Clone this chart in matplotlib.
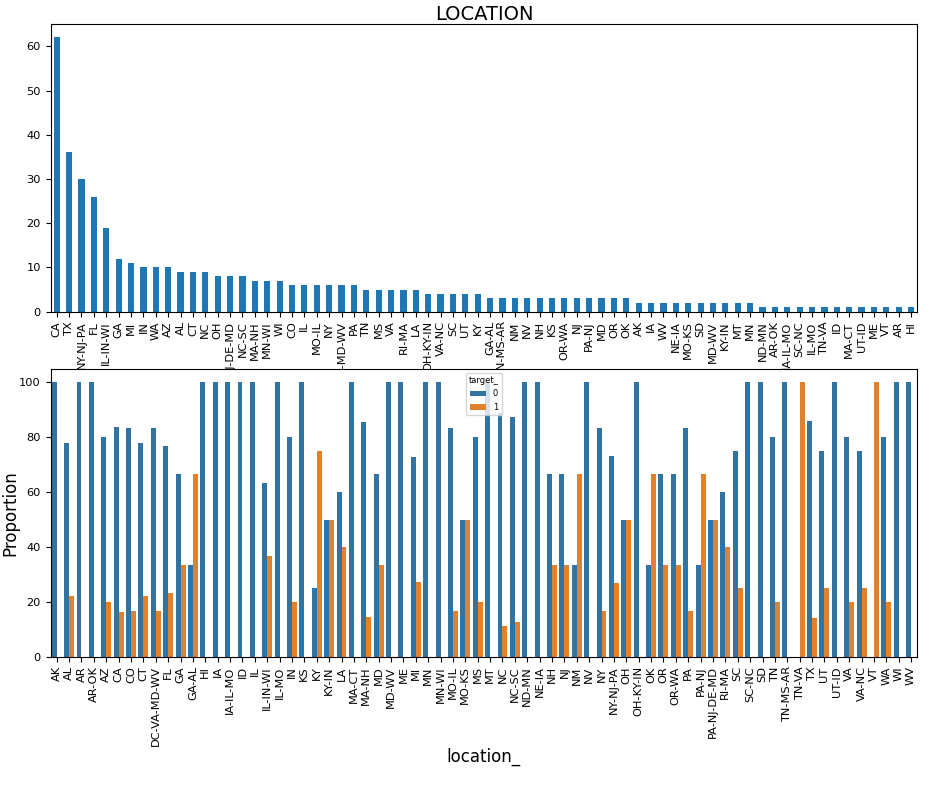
import matplotlib.pyplot as plt
import numpy as np

# value counts of location_ (sorted, as in the top panel)
count_locs = ['CA', 'TX', 'NY-NJ-PA', 'FL', 'IL-IN-WI', 'GA', 'MI', 'IN', 'WA', 'AZ',
              'AL', 'CT', 'NC', 'OH', 'PA-NJ-DE-MD', 'NC-SC', 'MA-NH', 'MN-WI', 'WI', 'CO',
              'IL', 'MO-IL', 'NY', 'DC-VA-MD-WV', 'PA', 'TN', 'MS', 'VA', 'RI-MA', 'LA',
              'OH-KY-IN', 'VA-NC', 'SC', 'UT', 'KY', 'GA-AL', 'TN-MS-AR', 'NM', 'NV', 'NH',
              'KS', 'OR-WA', 'NJ', 'PA-NJ', 'MD', 'OR', 'OK', 'AK', 'IA', 'WV',
              'NE-IA', 'MO-KS', 'SD', 'MD-WV', 'KY-IN', 'MT', 'MN', 'ND-MN', 'AR-OK', 'IA-IL-MO',
              'SC-NC', 'IL-MO', 'TN-VA', 'ID', 'MA-CT', 'UT-ID', 'ME', 'VT', 'AR', 'HI']
counts = [62, 36, 30, 26, 19, 12, 11, 10, 10, 10,
          9, 9, 9, 8, 8, 8, 7, 7, 7, 6,
          6, 6, 6, 6, 6, 5, 5, 5, 5, 5,
          4, 4, 4, 4, 4, 3, 3, 3, 3, 3,
          3, 3, 3, 3, 3, 3, 3, 2, 2, 2,
          2, 2, 2, 2, 2, 2, 2, 1, 1, 1,
          1, 1, 1, 1, 1, 1, 1, 1, 1, 1]

# proportion of target_ per location_ (alphabetical, bottom panel)
prop_locs = ['AK', 'AL', 'AR', 'AR-OK', 'AZ', 'CA', 'CO', 'CT', 'DC-VA-MD-WV', 'FL',
             'GA', 'GA-AL', 'HI', 'IA', 'IA-IL-MO', 'ID', 'IL', 'IL-IN-WI', 'IL-MO', 'IN',
             'KS', 'KY', 'KY-IN', 'LA', 'MA-CT', 'MA-NH', 'MD', 'MD-WV', 'ME', 'MI',
             'MN', 'MN-WI', 'MO-IL', 'MO-KS', 'MS', 'MT', 'NC', 'NC-SC', 'ND-MN', 'NE-IA',
             'NH', 'NJ', 'NM', 'NV', 'NY', 'NY-NJ-PA', 'OH', 'OH-KY-IN', 'OK', 'OR',
             'OR-WA', 'PA', 'PA-NJ', 'PA-NJ-DE-MD', 'RI-MA', 'SC', 'SC-NC', 'SD', 'TN', 'TN-MS-AR',
             'TN-VA', 'TX', 'UT', 'UT-ID', 'VA', 'VA-NC', 'VT', 'WA', 'WI', 'WV']
prop0 = [100, 77.8, 100, 100, 80, 83.9, 83.3, 77.8, 83.3, 76.9,
         66.7, 33.3, 100, 100, 100, 100, 100, 63.2, 100, 80,
         100, 25, 50, 60, 100, 85.7, 66.7, 100, 100, 72.7,
         100, 100, 83.3, 50, 80, 100, 88.9, 87.5, 100, 100,
         66.7, 66.7, 33.3, 100, 83.3, 73.3, 50, 100, 33.3, 66.7,
         66.7, 83.3, 33.3, 50, 60, 75, 100, 100, 80, 100,
         0, 86.1, 75, 100, 80, 75, 0, 80, 100, 100]
prop1 = [0, 22.2, 0, 0, 20, 16.1, 16.7, 22.2, 16.7, 23.1,
         33.3, 66.7, 0, 0, 0, 0, 0, 36.8, 0, 20,
         0, 75, 50, 40, 0, 14.3, 33.3, 0, 0, 27.3,
         0, 0, 16.7, 50, 20, 0, 11.1, 12.5, 0, 0,
         33.3, 33.3, 66.7, 0, 16.7, 26.7, 50, 0, 66.7, 33.3,
         33.3, 16.7, 66.7, 50, 40, 25, 0, 0, 20, 0,
         100, 13.9, 25, 0, 20, 25, 100, 20, 0, 0]

fig = plt.figure(figsize=(9.36, 7.93), dpi=100)

# top panel: counts
ax1 = fig.add_axes([0.054, 0.607, 0.926, 0.363])
x = np.arange(len(count_locs))
ax1.bar(x, counts, width=0.5, color='#1f77b4')
ax1.set_xlim(-0.5, len(count_locs) - 0.5)
ax1.set_ylim(0, max(counts) * 1.05)
ax1.set_xticks(x)
ax1.set_xticklabels(count_locs, rotation=90)
ax1.tick_params(labelsize=8.2)
ax1.set_title('LOCATION', fontsize=14, pad=3)

# bottom panel: proportions by target
ax2 = fig.add_axes([0.054, 0.172, 0.926, 0.363])
x2 = np.arange(len(prop_locs))
w = 0.4
ax2.bar(x2 - w / 2, prop0, width=w, color='#3274a1', label='0')
ax2.bar(x2 + w / 2, prop1, width=w, color='#e1812c', label='1')
ax2.set_xlim(-0.5, len(prop_locs) - 0.5)
ax2.set_ylim(0, 105)
ax2.set_xticks(x2)
ax2.set_xticklabels(prop_locs, rotation=90)
ax2.tick_params(labelsize=8.2)
ax2.set_ylabel('Proportion', fontsize=12)
ax2.yaxis.set_label_coords(-0.036, 0.5)
ax2.set_xlabel('location_', fontsize=12)
ax2.xaxis.set_label_coords(0.5, -0.315)
ax2.legend(title='target_', loc='upper center', fontsize=6, title_fontsize=6,
           handlelength=2, borderpad=0.4)

plt.savefig('out.png')
